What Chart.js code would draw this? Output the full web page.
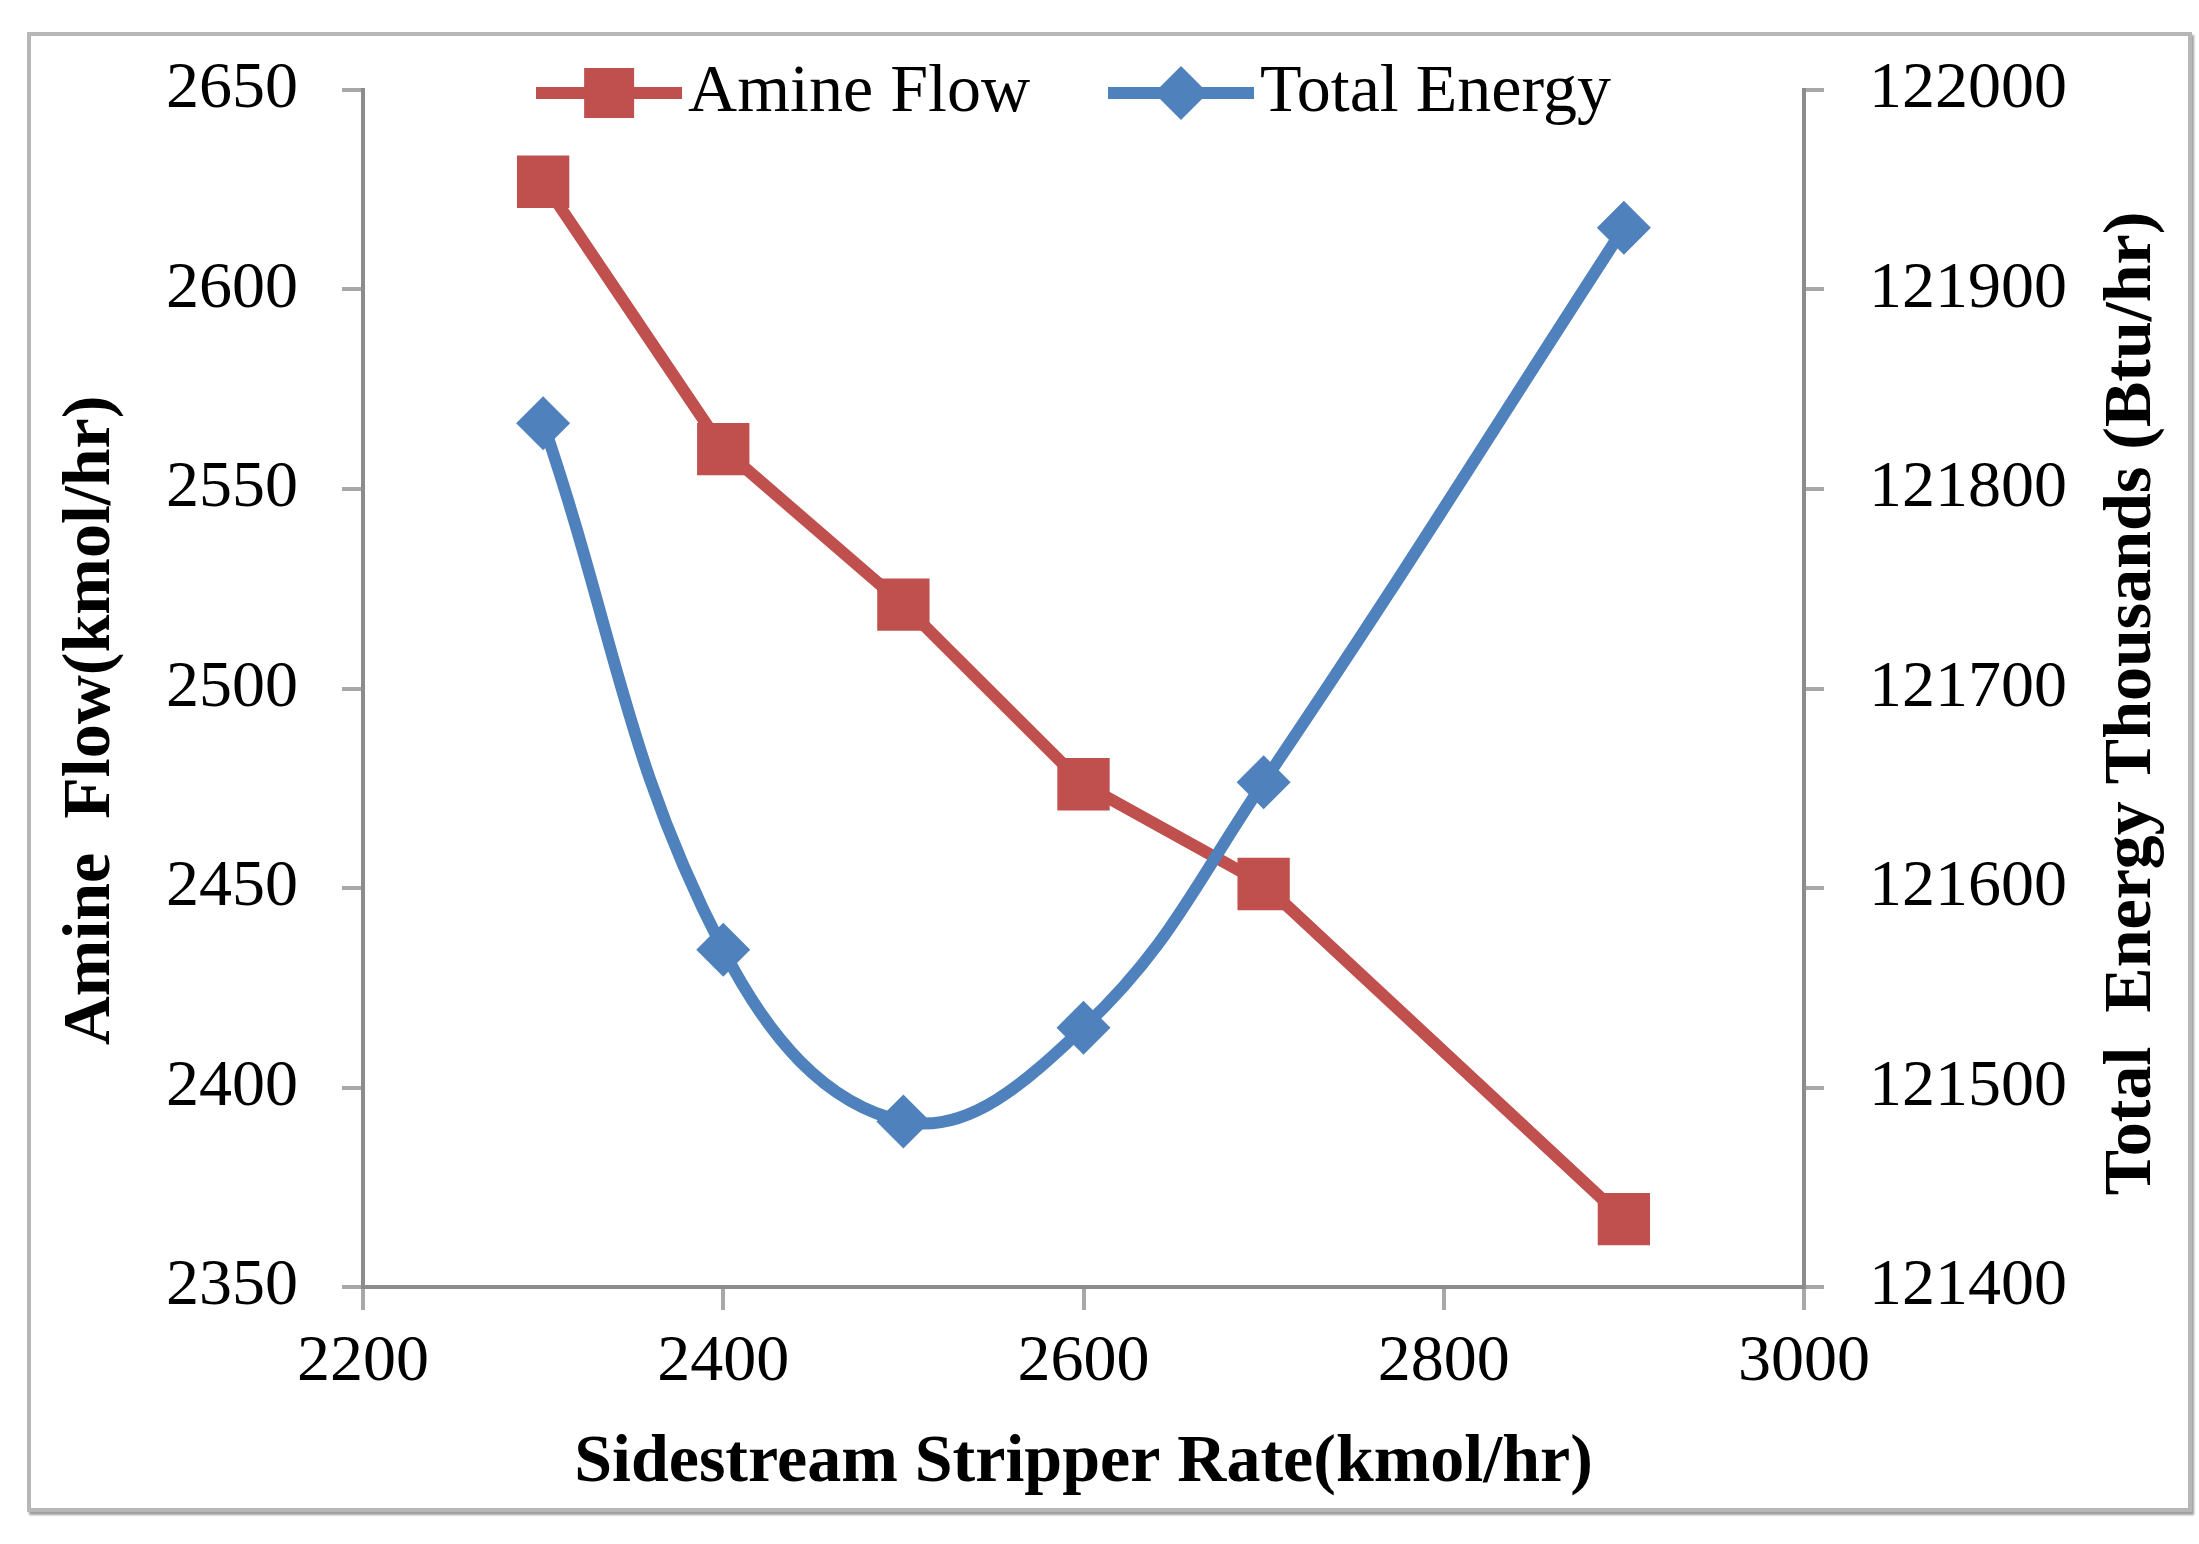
<!DOCTYPE html>
<html lang="en">
<head>
<meta charset="UTF-8">
<title>Amine Flow and Total Energy vs Sidestream Stripper Rate</title>
<script src="https://cdn.jsdelivr.net/npm/chart.js"></script>
<style>
  html, body { margin: 0; padding: 0; background: #fff; }
  #frame { position: absolute; left: 27px; top: 32px; width: 2157px; height: 1472px;
           border: 4px solid #b7b7b7; box-shadow: 2px 3px 2px #a0a0a0; }
  #myChart { position: absolute; left: 0; top: 0; }
</style>
</head>
<body>
<div id="frame"></div>
<canvas id="myChart" width="2199" height="1544"></canvas>
<script>
// data
const rates = [2300, 2400, 2500, 2600, 2700, 2900];
const amineFlow = [2627, 2560, 2521, 2476, 2451, 2367];
const totalEnergy = [121833, 121569, 121483, 121530, 121653, 121931];

const rateTicks = [2200, 2400, 2600, 2800, 3000];
const amineTicks = [2350, 2400, 2450, 2500, 2550, 2600, 2650];
const energyTicks = [121400, 121500, 121600, 121700, 121800, 121900, 122000];

const xTitle = 'Sidestream Stripper Rate(kmol/hr)';
const amineTitle = 'Amine  Flow(kmol/hr)';
const energyTitle = 'Total  Energy Thousands (Btu/hr)';

const RED = '#C0504D';
const BLUE = '#4F81BD';
const AXIS = '#8c8c8c';
const TICK = '#a8a8a8';
const SERIF = '"Liberation Serif", "Times New Roman", serif';

Chart.defaults.font.family = SERIF;
Chart.defaults.color = '#000';

// legend icon: line with marker in the middle, like Excel
function legendIcon(color, shape) {
  const c = document.createElement('canvas');
  c.width = 146; c.height = 60;
  const g = c.getContext('2d');
  g.strokeStyle = color;
  g.lineWidth = 12;
  g.beginPath(); g.moveTo(0, 30); g.lineTo(146, 30); g.stroke();
  g.fillStyle = color;
  if (shape === 'rect') {
    g.fillRect(73 - 25, 5, 50, 50);
  } else {
    g.beginPath();
    g.moveTo(73, 3); g.lineTo(100, 30); g.lineTo(73, 57); g.lineTo(46, 30);
    g.closePath(); g.fill();
  }
  return c;
}
const icons = [legendIcon(RED, 'rect'), legendIcon(BLUE, 'diamond')];

function fixedTicks(values) {
  return scale => { scale.ticks = values.map(v => ({ value: v })); };
}

// legend takes no room at the top and sits inside the plot, level with the top tick
const legendNudge = {
  id: 'legendNudge',
  beforeLayout(chart) {
    const lg = chart.legend;
    if (lg && !lg._noHeight) {
      const fit = lg.fit;
      lg.fit = function () { fit.call(this); this._realHeight = this.height; this.height = 0; };
      lg._noHeight = true;
    }
  },
  afterLayout(chart) {
    const lg = chart.legend;
    lg.top -= 137;
    lg.height = lg._realHeight;
    lg.bottom = lg.top + lg._realHeight;
    lg.left -= 22; lg.right -= 22;
  }
};

// y titles, both reading bottom-to-top as in the original
function sideTitle(ctx, text, x, y) {
  ctx.save();
  ctx.translate(x, y);
  ctx.rotate(-Math.PI / 2);
  ctx.font = 'bold 68px ' + SERIF;
  ctx.fillStyle = '#000';
  ctx.textAlign = 'center';
  ctx.textBaseline = 'middle';
  ctx.fillText(text, 0, 0);
  ctx.restore();
}
const yTitles = {
  id: 'yTitles',
  afterDraw(chart) {
    const { ctx, chartArea } = chart;
    const mid = (chartArea.top + chartArea.bottom) / 2;
    sideTitle(ctx, amineTitle, 91, mid + 32);
    sideTitle(ctx, energyTitle, 2132, mid + 15);
  }
};

const ctx = document.getElementById('myChart').getContext('2d');
new Chart(ctx, {
  type: 'line',
  data: {
    datasets: [{
      label: 'Amine Flow',
      data: rates.map((x, i) => ({ x: x, y: amineFlow[i] })),
      yAxisID: 'y',
      order: 2,
      borderColor: RED,
      backgroundColor: RED,
      borderWidth: 12,
      borderJoinStyle: 'round',
      pointStyle: 'rect',
      pointRadius: 37,
      pointBorderWidth: 0,
      pointBackgroundColor: RED,
      tension: 0
    }, {
      label: 'Total Energy',
      data: rates.map((x, i) => ({ x: x, y: totalEnergy[i] })),
      yAxisID: 'y1',
      order: 1,
      borderColor: BLUE,
      backgroundColor: BLUE,
      borderWidth: 12,
      borderJoinStyle: 'round',
      pointStyle: 'rectRot',
      pointRadius: 27,
      pointBorderWidth: 0,
      pointBackgroundColor: BLUE,
      tension: 0.4
    }]
  },
  options: {
    responsive: false,
    devicePixelRatio: 1,
    animation: false,
    clip: false,
    layout: { padding: { left: 40, right: 20, top: 90, bottom: 30 } },
    plugins: {
      tooltip: { enabled: false },
      legend: {
        position: 'top',
        align: 'center',
        labels: {
          usePointStyle: true,
          pointStyleWidth: 90,
          padding: 106,
          color: '#000',
          font: { size: 68 },
          sort: (a, b) => a.datasetIndex - b.datasetIndex,
          generateLabels(chart) {
            const items = Chart.defaults.plugins.legend.labels.generateLabels(chart);
            items.forEach(it => { it.pointStyle = icons[it.datasetIndex]; });
            return items;
          }
        }
      }
    },
    scales: {
      x: {
        type: 'linear',
        min: 2200,
        max: 3000,
        afterBuildTicks: fixedTicks(rateTicks),
        afterFit(s) { s.height = 227; },
        grid: { drawOnChartArea: false, tickLength: 23, color: TICK, lineWidth: 4 },
        border: { color: AXIS, width: 4 },
        ticks: { padding: 13, font: { size: 66 }, callback: v => String(v), maxRotation: 0 },
        title: { display: true, text: xTitle, font: { size: 68, weight: 'bold' }, padding: { top: 0, bottom: 10 } }
      },
      y: {
        position: 'left',
        min: 2350,
        max: 2650,
        afterBuildTicks: fixedTicks(amineTicks),
        afterFit(s) { s.width = 323; },
        grid: { drawOnChartArea: false, tickLength: 21, color: TICK, lineWidth: 4 },
        border: { color: AXIS, width: 4 },
        ticks: { padding: 44, font: { size: 66 }, callback: v => String(v) }
      },
      y1: {
        position: 'right',
        min: 121400,
        max: 122000,
        afterBuildTicks: fixedTicks(energyTicks),
        afterFit(s) { s.width = 375; },
        grid: { drawOnChartArea: false, tickLength: 20, color: TICK, lineWidth: 4 },
        border: { color: AXIS, width: 4 },
        ticks: { padding: 45, font: { size: 66 }, callback: v => String(v) }
      }
    }
  },
  plugins: [legendNudge, yTitles]
});
</script>
</body>
</html>
